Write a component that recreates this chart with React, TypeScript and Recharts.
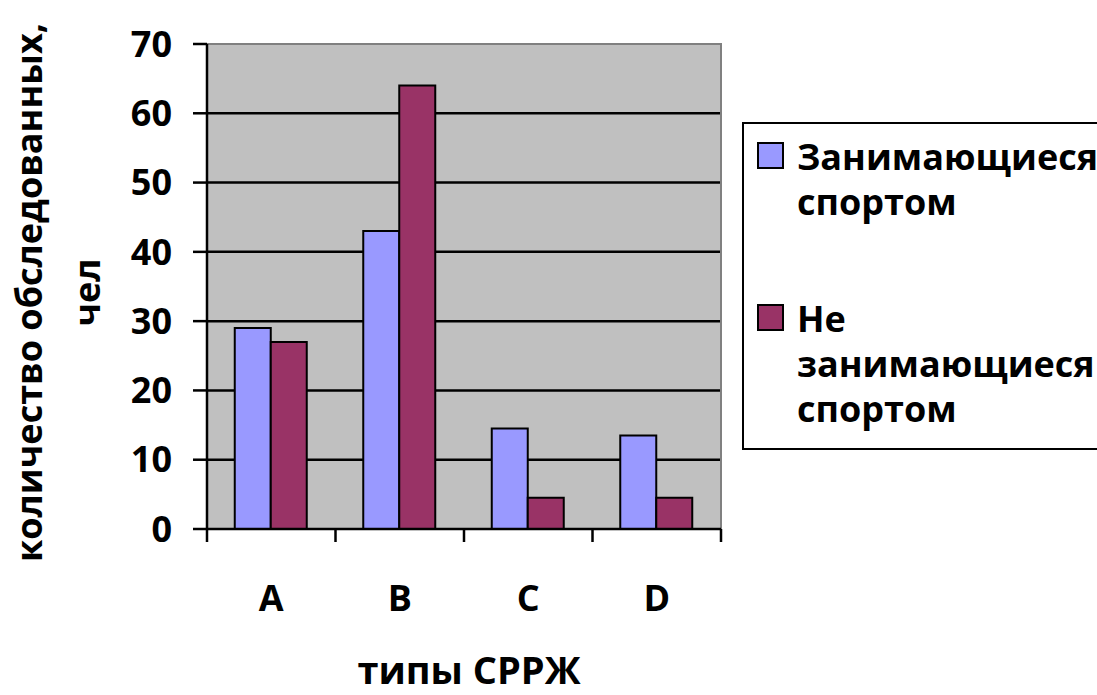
import React from 'react';
import { BarChart, Bar, XAxis, YAxis, CartesianGrid, ReferenceArea, Label } from 'recharts';

const categories = ['A', 'B', 'C', 'D'];
const sportValues = [29, 43, 14.5, 13.5];
const nonSportValues = [27, 64, 4.5, 4.5];
const yTicks = [0, 10, 20, 30, 40, 50, 60, 70];
const gridValues = [10, 20, 30, 40, 50, 60];

const series = [
  { key: 'sport', name: 'Занимающиеся спортом', color: '#9999FF' },
  { key: 'nonSport', name: 'Не занимающиеся спортом', color: '#993366' },
];

const xTitle = 'типы СРРЖ';
const yTitle = ['количество обследованных,', 'чел'];

const data = categories.map((c, i) => ({
  name: c,
  sport: sportValues[i],
  nonSport: nonSportValues[i],
}));

const FONT = '"Open Sans", sans-serif';
const W = 1097;
const H = 695;
const PLOT_W = 514;
const halfBand = PLOT_W / categories.length / 2;

const XTick = (props: any) => {
  const { x, y, payload, index } = props;
  return (
    <g>
      <line x1={x - halfBand} y1={y} x2={x - halfBand} y2={y + 13} stroke="#000" strokeWidth={2.5} />
      {index === categories.length - 1 && (
        <line x1={x + halfBand} y1={y} x2={x + halfBand} y2={y + 13} stroke="#000" strokeWidth={2.5} />
      )}
      <text x={x} y={y + 82} textAnchor="middle" fontFamily={FONT} fontWeight="bold" fontSize={36} fill="#000">
        {payload.value}
      </text>
    </g>
  );
};

const YTitle = (props: any) => {
  const vb = props.viewBox || { y: 44, height: 485 };
  const cy = vb.y + vb.height / 2 + 6;
  const xs = [28, 86];
  return (
    <g>
      {yTitle.map((t, i) => (
        <text
          key={i}
          x={xs[i]}
          y={cy}
          transform={`rotate(-90, ${xs[i]}, ${cy})`}
          textAnchor="middle"
          dominantBaseline="central"
          fontFamily={FONT}
          fontWeight="bold"
          fontSize={36}
          fill="#000"
        >
          {t}
        </text>
      ))}
    </g>
  );
};

const XTitle = (props: any) => {
  const vb = props.viewBox || { x: 207, y: 529, width: 514 };
  return (
    <text
      x={vb.x + vb.width / 2 + 5}
      y={684}
      textAnchor="middle"
      fontFamily={FONT}
      fontWeight="bold"
      fontSize={38}
      fill="#000"
    >
      {xTitle}
    </text>
  );
};

const legendTops = [134, 296];

export default function App() {
  return (
    <div style={{ position: 'absolute', left: 0, top: 0, width: W, height: H, overflow: 'hidden', background: '#fff' }}>
      <BarChart
        width={W}
        height={H}
        data={data}
        margin={{ top: 44, right: W - 207 - PLOT_W, bottom: 0, left: 0 }}
        barGap={0}
        barCategoryGap="21.6%"
      >
        <CartesianGrid
          vertical={false}
          horizontalValues={gridValues}
          stroke="#000"
          strokeWidth={2.5}
          fill="#C0C0C0"
          fillOpacity={1}
        />
        <ReferenceArea x1="A" x2="D" y1={0} y2={70} fill="none" stroke="#808080" strokeWidth={2} />
        <XAxis
          dataKey="name"
          height={166}
          tickSize={0}
          tickMargin={0}
          tickLine={false}
          axisLine={{ stroke: '#000', strokeWidth: 2.5 }}
          tick={<XTick />}
          interval={0}
        >
          <Label content={<XTitle />} />
        </XAxis>
        <YAxis
          width={207}
          domain={[0, 70]}
          ticks={yTicks}
          interval={0}
          tickSize={14}
          tickMargin={21}
          axisLine={{ stroke: '#000', strokeWidth: 2.5 }}
          tickLine={{ stroke: '#000', strokeWidth: 2.5 }}
          tick={{ fill: '#000', fontSize: 36, fontWeight: 'bold', fontFamily: FONT }}
        >
          <Label content={<YTitle />} />
        </YAxis>
        {series.map(s => (
          <Bar
            key={s.key}
            dataKey={s.key}
            name={s.name}
            fill={s.color}
            stroke="#000"
            strokeWidth={2}
            isAnimationActive={false}
          />
        ))}
      </BarChart>
      <div
        style={{
          position: 'absolute',
          left: 742,
          top: 122,
          width: 380,
          height: 328,
          border: '2px solid #000',
          boxSizing: 'border-box',
          background: '#fff',
        }}
      />
      {series.map((s, i) => (
        <div key={s.key} style={{ position: 'absolute', left: 757, top: legendTops[i], display: 'flex', alignItems: 'flex-start' }}>
          <div
            style={{
              width: 27,
              height: 27,
              marginTop: 8,
              background: s.color,
              border: '2px solid #000',
              boxSizing: 'border-box',
              flexShrink: 0,
            }}
          />
          <div
            style={{
              marginLeft: 13,
              width: 300,
              fontFamily: FONT,
              fontWeight: 'bold',
              fontSize: 36,
              lineHeight: '45px',
              color: '#000',
            }}
          >
            {s.name}
          </div>
        </div>
      ))}
    </div>
  );
}
